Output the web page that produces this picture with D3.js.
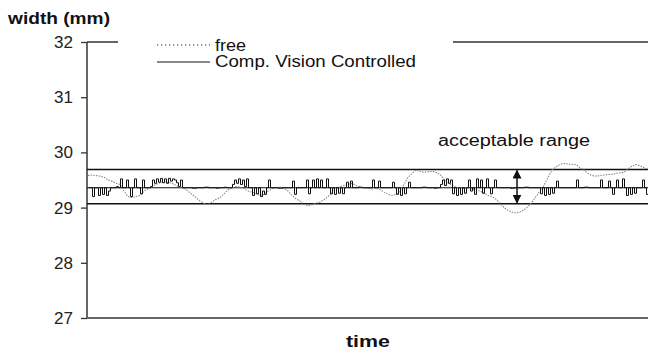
<!DOCTYPE html>
<html><head><meta charset="utf-8">
<script src="https://cdn.jsdelivr.net/npm/d3@7"></script>
<style>body{margin:0;background:#fff}svg{display:block}</style>
</head><body><svg id="c" width="648" height="352"></svg>
<script>
// ---- data ----
const yTicks = [27, 28, 29, 30, 31, 32];
const rangeLimits = [29.07, 29.69];
const targetValue = 29.36;
const seriesNames = ["free", "Comp. Vision Controlled"];
// free (uncontrolled) width, sampled every time step
const freeValues = [29.58,29.59,29.58,29.57,29.55,29.5,29.48,29.44,29.42,29.3,29.2,29.18,29.2,29.22,29.3,29.34,29.38,29.42,29.45,29.47,
29.46,29.44,29.4,29.37,29.35,29.3,29.24,29.18,29.12,29.08,29.05,29.1,29.15,29.18,29.25,29.32,29.36,29.38,29.37,29.34,
29.3,29.28,29.25,29.22,29.24,29.3,29.34,29.36,29.37,29.35,29.3,29.22,29.16,29.12,29.06,29.03,29.05,29.08,29.1,29.14,
29.2,29.28,29.34,29.38,29.4,29.42,29.44,29.4,29.37,29.36,29.35,29.34,29.35,29.33,29.28,29.24,29.22,29.24,29.3,29.42,
29.55,29.62,29.68,29.66,29.64,29.65,29.66,29.64,29.6,29.52,29.45,29.4,29.37,29.36,29.35,29.36,29.34,29.32,29.3,29.27,
29.22,29.2,29.15,29.08,29.0,28.95,28.92,28.9,28.92,28.96,29.02,29.1,29.2,29.3,29.4,29.55,29.68,29.74,29.78,29.8,
29.79,29.78,29.78,29.72,29.68,29.62,29.58,29.57,29.58,29.59,29.6,29.6,29.62,29.63,29.64,29.7,29.75,29.78,29.76,29.72,29.7];
// vision-controlled width
const controlledValues = [29.36,29.36,29.2,29.36,29.36,29.22,29.36,29.24,29.36,29.22,29.3,29.36,
29.36,29.36,29.38,29.36,29.52,29.36,29.36,29.5,29.36,29.2,29.36,29.52,29.36,29.36,29.25,29.5,29.36,29.36,
29.36,29.38,29.5,29.44,29.52,29.46,29.53,29.45,29.52,29.44,29.53,29.48,29.52,29.5,29.45,29.38,29.5,29.36,
29.36,29.36,29.36,29.36,29.35,29.35,29.36,29.36,29.36,29.36,29.37,29.37,29.36,29.36,29.36,29.36,29.35,29.36,29.36,29.36,29.37,29.36,29.36,29.36,
29.42,29.5,29.44,29.52,29.42,29.5,29.38,29.52,29.36,
29.36,29.22,29.36,29.25,29.36,29.2,29.3,29.24,29.36,29.5,29.36,
29.36,29.36,29.36,29.35,29.35,29.36,29.36,29.36,29.36,29.36,
29.48,29.24,29.36,29.36,29.36,29.36,29.36,29.5,29.25,29.36,29.5,29.36,29.52,29.36,29.5,29.36,29.36,29.52,29.36,29.25,29.36,29.24,29.36,29.26,29.36,29.25,29.36,29.46,29.36,29.48,29.36,
29.36,29.36,29.37,29.37,29.36,29.36,29.36,29.36,29.36,
29.5,29.36,29.36,29.48,29.36,29.36,29.36,29.36,29.36,29.36,29.46,29.36,29.24,29.36,29.22,29.36,29.25,29.36,29.46,29.36,29.36,29.36,29.36,29.36,
29.36,29.37,29.37,29.36,29.36,29.36,29.36,29.35,29.36,29.36,
29.42,29.5,29.4,29.52,29.44,29.5,29.25,29.36,29.22,29.36,29.24,29.36,29.26,
29.36,29.5,29.3,29.36,29.24,29.52,29.36,29.5,29.26,29.36,29.52,29.36,29.25,29.36,29.5,29.36,29.36,
29.36,29.36,29.36,29.36,29.36,29.35,29.35,29.36,29.36,29.36,29.36,29.36,29.37,29.37,29.36,29.36,29.36,29.36,29.36,29.36,
29.25,29.36,29.22,29.36,29.24,29.36,29.26,29.36,29.48,29.36,29.36,29.36,29.36,
29.36,29.36,29.36,29.36,29.36,29.5,29.36,29.36,29.36,29.37,29.37,29.36,29.36,29.36,29.36,29.36,29.36,
29.5,29.36,29.36,29.36,29.48,29.36,29.24,29.36,29.5,29.36,29.36,29.52,29.36,
29.22,29.36,29.24,29.36,29.26,29.36,29.36,29.36,29.5,29.36,29.24,29.36];

// ---- layout ----
const svg = d3.select("#c");
const L = 87, R = 648, T = 42, B = 318;
const y = d3.scaleLinear().domain([27, 32]).range([B, T]);
const xFree = d3.scaleLinear().domain([0, freeValues.length - 1]).range([L + 1, R]);
const xCtrl = d3.scaleLinear().domain([0, controlledValues.length - 1]).range([L + 1.5, R + 0.5]);
const font = "'Liberation Sans', Arial, sans-serif";

// y axis
const yAxis = d3.axisLeft(y).tickValues(yTicks).tickSize(6).tickPadding(8).tickFormat(d3.format("d"));
const ga = svg.append("g").attr("transform", `translate(${L},0)`).call(yAxis);
ga.select(".domain").attr("stroke", "#333").attr("stroke-width", 1.5).attr("d", `M0,${B}V${T}`);
ga.selectAll(".tick line").attr("stroke", "#333").attr("stroke-width", 1.3);
ga.selectAll(".tick text").attr("font-family", font).attr("font-size", 17).attr("fill", "#222");

// frame lines (top broken by legend, bottom)
svg.append("line").attr("x1", L).attr("x2", 118).attr("y1", y(32)).attr("y2", y(32)).attr("stroke", "#333").attr("stroke-width", 1.5);
svg.append("line").attr("x1", 453).attr("x2", R).attr("y1", y(32)).attr("y2", y(32)).attr("stroke", "#333").attr("stroke-width", 1.5);
svg.append("line").attr("x1", L).attr("x2", R).attr("y1", y(27)).attr("y2", y(27)).attr("stroke", "#666").attr("stroke-width", 1.8);

// acceptable range lines
svg.selectAll(".lim").data(rangeLimits).join("line")
  .attr("x1", L).attr("x2", R).attr("y1", d => y(d)).attr("y2", d => y(d))
  .attr("stroke", "#111").attr("stroke-width", 1.6);
svg.append("line").attr("x1", L).attr("x2", R).attr("y1", y(targetValue)).attr("y2", y(targetValue))
  .attr("stroke", "#111").attr("stroke-width", 1.2);

// series
const lineFree = d3.line().x((d, i) => xFree(i)).y(d => y(d));
const lineCtrl = d3.line().curve(d3.curveStepAfter).x((d, i) => xCtrl(i)).y(d => y(d));
svg.append("path").attr("d", lineFree(freeValues)).attr("fill", "none")
  .attr("stroke", "#888").attr("stroke-width", 1.1).attr("stroke-dasharray", "1.5 1.2");
svg.append("path").attr("d", lineCtrl(controlledValues)).attr("fill", "none")
  .attr("stroke", "#111").attr("stroke-width", 1);

// double arrow
const ax = 517;
const defs = svg.append("defs");
defs.append("marker").attr("id", "ah").attr("viewBox", "0 0 10 10").attr("refX", 9).attr("refY", 5)
  .attr("markerWidth", 6).attr("markerHeight", 6).attr("orient", "auto-start-reverse")
  .append("path").attr("d", "M0,0L10,5L0,10Z").attr("fill", "#111");
svg.append("line").attr("x1", ax).attr("x2", ax).attr("y1", y(rangeLimits[1]) + 1).attr("y2", y(rangeLimits[0]) - 1)
  .attr("stroke", "#111").attr("stroke-width", 1.5)
  .attr("marker-start", "url(#ah)").attr("marker-end", "url(#ah)");

// texts
function txt(s, x, yy, size, w, len, anchor) {
  const t = svg.append("text").attr("x", x).attr("y", yy).attr("font-family", font)
    .attr("font-size", size).attr("font-weight", w).attr("fill", "#111").text(s);
  if (anchor) t.attr("text-anchor", anchor);
  if (len) t.attr("textLength", len).attr("lengthAdjust", "spacingAndGlyphs");
  return t;
}
txt("width (mm)", 8, 24, 17, "bold", 102);
txt("time", 368, 347, 17, "bold", 44, "middle");
txt("acceptable range", 438, 146, 16, "normal", 152);

// legend
const lg = svg.append("g");
lg.append("line").attr("x1", 157).attr("x2", 210).attr("y1", 45).attr("y2", 45)
  .attr("stroke", "#777").attr("stroke-width", 1.3).attr("stroke-dasharray", "1.3 2.7");
lg.append("line").attr("x1", 157).attr("x2", 210).attr("y1", 62).attr("y2", 62)
  .attr("stroke", "#111").attr("stroke-width", 1.2);
const legendLens = [31, 201];
seriesNames.forEach((s, i) => txt(s, 215, 51 + i * 16, 16, "normal", legendLens[i]));
</script></body></html>
